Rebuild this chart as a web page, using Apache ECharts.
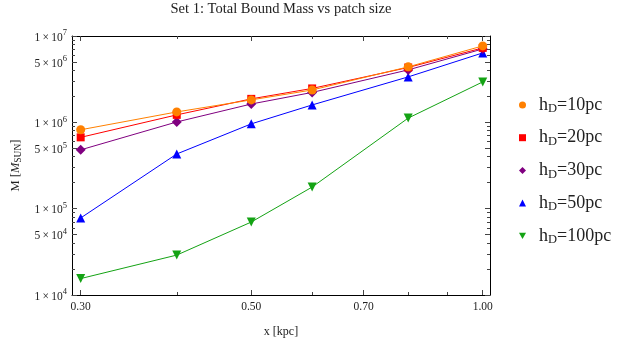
<!DOCTYPE html>
<html><head><meta charset="utf-8">
<script src="https://cdn.jsdelivr.net/npm/echarts@6/dist/echarts.min.js"></script>
<style>html,body{margin:0;padding:0;background:#fff}#c{width:622px;height:345px}</style>
</head><body><div id="c"></div>
<script>
const xValues = [0.3, 0.4, 0.5, 0.6, 0.8, 1.0];
const hd10  = [8.2e5, 1.32e6, 1.82e6, 2.37e6, 4.39e6, 7.68e6];
const hd20  = [6.7e5, 1.22e6, 1.87e6, 2.47e6, 4.32e6, 7.28e6];
const hd30  = [4.8e5, 1.01e6, 1.63e6, 2.22e6, 4.05e6, 7.08e6];
const hd50  = [7.8e4, 4.3e5, 9.6e5, 1.59e6, 3.36e6, 6.37e6];
const hd100 = [1.55e4, 2.9e4, 7.0e4, 1.78e5, 1.12e6, 2.94e6];
const seriesNames = ['h_D=10pc', 'h_D=20pc', 'h_D=30pc', 'h_D=50pc', 'h_D=100pc'];
const xTickLabels = [0.3, 0.5, 0.7, 1.0];
const xMinorTicks = [0.4, 0.6, 0.8, 0.9];
const yTickLabels = [1e4, 5e4, 1e5, 5e5, 1e6, 5e6, 1e7];
const yMinorTicks = [2e4, 3e4, 4e4, 6e4, 7e4, 8e4, 9e4,
                     2e5, 3e5, 4e5, 6e5, 7e5, 8e5, 9e5,
                     2e6, 3e6, 4e6, 6e6, 7e6, 8e6, 9e6];
const titleText = 'Set 1: Total Bound Mass vs patch size';

const FONT = '"Liberation Serif", "DejaVu Serif", serif';
const TXT = '#222';
const X_MIN = 0.2923, X_MAX = 1.022, Y_MIN = 1e4, Y_MAX = 1e7;

function xAxisDef(pos, values, len, showLine, showLabel) {
  return {
    type: 'log', logBase: 10, min: X_MIN, max: X_MAX, position: pos,
    axisLine: {show: showLine, onZero: false, lineStyle: {color: '#000', width: 1}},
    axisTick: {show: true, inside: true, length: len, customValues: values, lineStyle: {color: '#444'}},
    axisLabel: {show: showLabel, customValues: values, margin: 6,
      formatter: v => Number(v).toFixed(2), fontFamily: FONT, fontSize: 11.5, color: TXT},
    splitLine: {show: false}, minorTick: {show: false}
  };
}
function yLabel(v) {
  const e = Math.floor(Math.log10(v) + 1e-9);
  const m = Math.round(v / Math.pow(10, e));
  return '{b|' + m + '\u2009×\u200910}{sup|' + e + '}';
}
function yAxisDef(pos, values, len, showLine, showLabel) {
  return {
    type: 'log', logBase: 10, min: Y_MIN, max: Y_MAX, position: pos,
    axisLine: {show: showLine, onZero: false, lineStyle: {color: '#000', width: 1}},
    axisTick: {show: true, inside: true, length: len, customValues: values, lineStyle: {color: '#444'}},
    axisLabel: {show: showLabel, customValues: values, margin: 5, formatter: yLabel,
      fontFamily: FONT, color: TXT,
      rich: {
        b: {fontFamily: FONT, fontSize: 11.5, color: TXT, verticalAlign: 'bottom'},
        sup: {fontFamily: FONT, fontSize: 8.5, color: TXT, padding: [0, 0, 6, 0], verticalAlign: 'bottom'}
      }},
    splitLine: {show: false}, minorTick: {show: false}
  };
}

const xAxes = [
  Object.assign(xAxisDef('bottom', xTickLabels, 5, true, true), {
    name: 'x [kpc]', nameLocation: 'middle', nameGap: 31,
    nameTextStyle: {fontFamily: FONT, fontSize: 12, color: TXT}
  }),
  xAxisDef('bottom', xMinorTicks, 3, false, false),
  xAxisDef('top', xTickLabels, 5, true, false),
  xAxisDef('top', xMinorTicks, 3, false, false)
];
const yAxes = [
  Object.assign(yAxisDef('left', yTickLabels, 5, true, true), {
    name: 'M [{it|M}{sub|SUN}]', nameLocation: 'middle', nameGap: 44,
    nameTextStyle: {fontFamily: FONT, fontSize: 12.5, color: TXT,
      rich: {
        it: {fontFamily: FONT, fontSize: 12.5, fontStyle: 'italic', color: TXT},
        sub: {fontFamily: FONT, fontSize: 9.5, color: TXT, padding: [6, 0, 0, 0]}
      }}
  }),
  yAxisDef('left', yMinorTicks, 3, false, false),
  yAxisDef('right', yTickLabels, 5, true, false),
  yAxisDef('right', yMinorTicks, 3, false, false)
];

const colors = ['#ff8000', '#ff0000', '#800080', '#0000ff', '#14a314'];
const invTri = 'path://M0,0 L10,0 L5,9 Z';
const symbols = ['circle', 'rect', 'diamond', 'triangle', invTri];
const symSizes = [9, 8, 10, 9, 9];
const dataSets = [hd10, hd20, hd30, hd50, hd100];

const series = dataSets.map((arr, i) => ({
  name: seriesNames[i], type: 'line',
  xAxisIndex: 0, yAxisIndex: 0,
  data: xValues.map((x, j) => [x, arr[j]]),
  symbol: symbols[i], symbolSize: symSizes[i],
  showAllSymbol: true,
  lineStyle: {color: colors[i], width: 1},
  itemStyle: {color: colors[i]},
  z: 3 + (4 - i) * 0.01,
  animation: false
}));

const chart = echarts.init(document.getElementById('c'), null, {renderer: 'canvas'});
chart.setOption({
  backgroundColor: '#fff',
  animation: false,
  title: {text: titleText, left: 281, top: 2, textAlign: 'center', padding: 0,
    textStyle: {fontFamily: FONT, fontSize: 14.5, fontWeight: 'normal', color: TXT}},
  grid: {left: 72, top: 36, right: 132, bottom: 50, containLabel: false},
  xAxis: xAxes,
  yAxis: yAxes,
  legend: {
    orient: 'vertical', left: 514, top: 90,
    itemWidth: 7, itemHeight: 7, itemGap: 12.2,
    data: seriesNames.map((n, i) => ({name: n, icon: symbols[i]})),
    formatter: n => n.replace('_D', '{sub|D}'),
    textStyle: {fontFamily: FONT, fontSize: 18, color: TXT, lineHeight: 20, padding: [0, 0, 0, 8],
      rich: {sub: {fontFamily: FONT, fontSize: 12.5, color: TXT, padding: [8, 0, 0, 0]}}}
  },
  series: series
});
</script></body></html>
